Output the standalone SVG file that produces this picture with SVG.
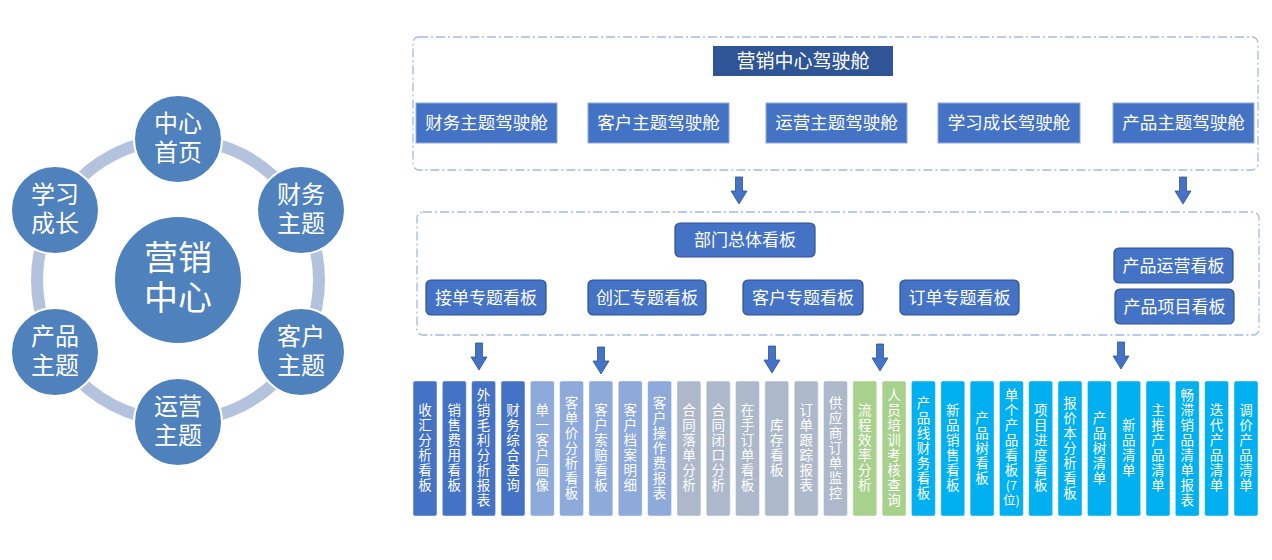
<svg xmlns="http://www.w3.org/2000/svg" width="1272" height="560" viewBox="0 0 1272 560">
<style>
text{font-family:"Noto Sans CJK SC","Noto Sans",sans-serif;fill:#fff;text-anchor:middle}
.ring{fill:none;stroke:#b3c2dd;stroke-width:12}
.circ{fill:#4f81bd;stroke:#fff;stroke-width:2}
.ct{font-size:24px}
.cc{font-size:34px}
.dash{fill:none;stroke:#a4b9e4;stroke-width:1.3;stroke-dasharray:9 3 2 3}
.cab{fill:#4472c4;stroke:#8faadc;stroke-width:1}
.cabt{font-size:17.5px}
.kb{fill:#4472c4;stroke:#2f528f;stroke-width:1.2}
.kbt{font-size:17px}
.arr{fill:#4472c4;stroke:#2f528f;stroke-width:0.8}
.col{stroke:#fff;stroke-opacity:.45;stroke-width:1}
.c1{fill:#4472c4}.c2{fill:#8eaadb}.c3{fill:#adb9ca}.c4{fill:#a9d18e}.c5{fill:#00b0f0}
.vt{font-size:13.5px;writing-mode:vertical-rl;letter-spacing:1.5px}
.ht{font-size:12.5px}
</style>
<defs>
<path id="arrow" d="M-3.5,0 H3.5 V14 H8 L0,27 L-8,14 H-3.5 Z"/>
</defs>

<g id="wheel">
<circle class="ring" cx="178" cy="280" r="141"/>
</g>
<g id="n-center"><circle class="circ" cx="178" cy="280" r="64"/><text class="cc" x="178" y="270">营销</text><text class="cc" x="178" y="310">中心</text></g>
<g id="n-home"><circle class="circ" cx="178" cy="139" r="44"/><text class="ct" x="178" y="132">中心</text><text class="ct" x="178" y="161">首页</text></g>
<g id="n-finance"><circle class="circ" cx="301" cy="210" r="44"/><text class="ct" x="301" y="203">财务</text><text class="ct" x="301" y="232">主题</text></g>
<g id="n-customer"><circle class="circ" cx="301" cy="352" r="44"/><text class="ct" x="301" y="345">客户</text><text class="ct" x="301" y="374">主题</text></g>
<g id="n-ops"><circle class="circ" cx="178" cy="422" r="44"/><text class="ct" x="178" y="415">运营</text><text class="ct" x="178" y="444">主题</text></g>
<g id="n-product"><circle class="circ" cx="55" cy="352" r="44"/><text class="ct" x="55" y="345">产品</text><text class="ct" x="55" y="374">主题</text></g>
<g id="n-learn"><circle class="circ" cx="55" cy="210" r="44"/><text class="ct" x="55" y="203">学习</text><text class="ct" x="55" y="232">成长</text></g>

<g id="cockpit-frame"><rect class="dash" x="413" y="37" width="845" height="133" rx="6"/></g>
<g id="cockpit-main"><rect x="713" y="46" width="180" height="30" fill="#2f5597"/><text x="803" y="68" font-size="19">营销中心驾驶舱</text></g>
<g id="cab-finance"><rect class="cab" x="416" y="103" width="141" height="40"/><text class="cabt" x="486.5" y="129">财务主题驾驶舱</text></g>
<g id="cab-customer"><rect class="cab" x="588" y="103" width="141" height="40"/><text class="cabt" x="658.5" y="129">客户主题驾驶舱</text></g>
<g id="cab-ops"><rect class="cab" x="766" y="103" width="141" height="40"/><text class="cabt" x="836.5" y="129">运营主题驾驶舱</text></g>
<g id="cab-learn"><rect class="cab" x="938" y="103" width="142" height="40"/><text class="cabt" x="1009" y="129">学习成长驾驶舱</text></g>
<g id="cab-product"><rect class="cab" x="1113" y="103" width="141" height="40"/><text class="cabt" x="1183.5" y="129">产品主题驾驶舱</text></g>

<g id="board-frame"><rect class="dash" x="417" y="212" width="842" height="123" rx="6"/></g>
<g id="kb-dept"><rect class="kb" x="675" y="223" width="140" height="34" rx="5"/><text class="kbt" x="745" y="246">部门总体看板</text></g>
<g id="kb-order-take"><rect class="kb" x="426" y="280" width="120" height="35" rx="5"/><text class="kbt" x="486" y="303.5">接单专题看板</text></g>
<g id="kb-fx"><rect class="kb" x="588" y="280" width="118" height="35" rx="5"/><text class="kbt" x="647" y="303.5">创汇专题看板</text></g>
<g id="kb-customer"><rect class="kb" x="743" y="280" width="120" height="35" rx="5"/><text class="kbt" x="803" y="303.5">客户专题看板</text></g>
<g id="kb-order"><rect class="kb" x="900" y="280" width="119" height="35" rx="5"/><text class="kbt" x="959.5" y="303.5">订单专题看板</text></g>
<g id="kb-prod-ops"><rect class="kb" x="1114" y="248" width="119" height="35" rx="5"/><text class="kbt" x="1173.5" y="271.5">产品运营看板</text></g>
<g id="kb-prod-proj"><rect class="kb" x="1115" y="289" width="119" height="35" rx="5"/><text class="kbt" x="1174.5" y="312.5">产品项目看板</text></g>

<g id="connectors">
<use href="#arrow" class="arr" x="739" y="177"/>
<use href="#arrow" class="arr" x="1183" y="177"/>
<use href="#arrow" class="arr" x="479" y="343"/>
<use href="#arrow" class="arr" x="601" y="347"/>
<use href="#arrow" class="arr" x="772" y="346"/>
<use href="#arrow" class="arr" x="880" y="344"/>
<use href="#arrow" class="arr" x="1121" y="342"/>
</g>

<g id="col0"><rect class="col c1" x="413" y="381" width="24" height="135" rx="2"/><text class="vt" x="425" y="448.5">收汇分析看板</text></g>
<g id="col1"><rect class="col c1" x="442.3" y="381" width="24" height="135" rx="2"/><text class="vt" x="454.3" y="448.5">销售费用看板</text></g>
<g id="col2"><rect class="col c1" x="471.6" y="381" width="24" height="135" rx="2"/><text class="vt" x="483.6" y="448.5">外销毛利分析报表</text></g>
<g id="col3"><rect class="col c1" x="501" y="381" width="24" height="135" rx="2"/><text class="vt" x="513" y="448.5">财务综合查询</text></g>
<g id="col4"><rect class="col c2" x="530.3" y="381" width="24" height="135" rx="2"/><text class="vt" x="542.3" y="448.5">单一客户画像</text></g>
<g id="col5"><rect class="col c2" x="559.6" y="381" width="24" height="135" rx="2"/><text class="vt" x="571.6" y="448.5">客单价分析看板</text></g>
<g id="col6"><rect class="col c2" x="588.9" y="381" width="24" height="135" rx="2"/><text class="vt" x="600.9" y="448.5">客户索赔看板</text></g>
<g id="col7"><rect class="col c2" x="618.2" y="381" width="24" height="135" rx="2"/><text class="vt" x="630.2" y="448.5">客户档案明细</text></g>
<g id="col8"><rect class="col c2" x="647.6" y="381" width="24" height="135" rx="2"/><text class="vt" x="659.6" y="448.5">客户操作费报表</text></g>
<g id="col9"><rect class="col c3" x="676.9" y="381" width="24" height="135" rx="2"/><text class="vt" x="688.9" y="448.5">合同落单分析</text></g>
<g id="col10"><rect class="col c3" x="706.2" y="381" width="24" height="135" rx="2"/><text class="vt" x="718.2" y="448.5">合同闭口分析</text></g>
<g id="col11"><rect class="col c3" x="735.5" y="381" width="24" height="135" rx="2"/><text class="vt" x="747.5" y="448.5">在手订单看板</text></g>
<g id="col12"><rect class="col c3" x="764.8" y="381" width="24" height="135" rx="2"/><text class="vt" x="776.8" y="448.5">库存看板</text></g>
<g id="col13"><rect class="col c3" x="794.2" y="381" width="24" height="135" rx="2"/><text class="vt" x="806.2" y="448.5">订单跟踪报表</text></g>
<g id="col14"><rect class="col c3" x="823.5" y="381" width="24" height="135" rx="2"/><text class="vt" x="835.5" y="448.5">供应商订单监控</text></g>
<g id="col15"><rect class="col c4" x="852.8" y="381" width="24" height="135" rx="2"/><text class="vt" x="864.8" y="448.5">流程效率分析</text></g>
<g id="col16"><rect class="col c4" x="882.1" y="381" width="24" height="135" rx="2"/><text class="vt" x="894.1" y="448.5">人员培训考核查询</text></g>
<g id="col17"><rect class="col c5" x="911.4" y="381" width="24" height="135" rx="2"/><text class="vt" x="923.4" y="448.5">产品线财务看板</text></g>
<g id="col18"><rect class="col c5" x="940.8" y="381" width="24" height="135" rx="2"/><text class="vt" x="952.8" y="448.5">新品销售看板</text></g>
<g id="col19"><rect class="col c5" x="970.1" y="381" width="24" height="135" rx="2"/><text class="vt" x="982.1" y="448.5">产品树看板</text></g>
<g id="col20"><rect class="col c5" x="999.4" y="381" width="24" height="135" rx="2"/><text class="vt" x="1011.4" y="433">单个产品看板</text><text class="ht" x="1011.4" y="490">(7</text><text class="ht" x="1011.4" y="505">位)</text></g>
<g id="col21"><rect class="col c5" x="1028.7" y="381" width="24" height="135" rx="2"/><text class="vt" x="1040.7" y="448.5">项目进度看板</text></g>
<g id="col22"><rect class="col c5" x="1058" y="381" width="24" height="135" rx="2"/><text class="vt" x="1070" y="448.5">报价本分析看板</text></g>
<g id="col23"><rect class="col c5" x="1087.4" y="381" width="24" height="135" rx="2"/><text class="vt" x="1099.4" y="448.5">产品树清单</text></g>
<g id="col24"><rect class="col c5" x="1116.7" y="381" width="24" height="135" rx="2"/><text class="vt" x="1128.7" y="448.5">新品清单</text></g>
<g id="col25"><rect class="col c5" x="1146" y="381" width="24" height="135" rx="2"/><text class="vt" x="1158" y="448.5">主推产品清单</text></g>
<g id="col26"><rect class="col c5" x="1175.3" y="381" width="24" height="135" rx="2"/><text class="vt" x="1187.3" y="448.5">畅滞销品清单报表</text></g>
<g id="col27"><rect class="col c5" x="1204.6" y="381" width="24" height="135" rx="2"/><text class="vt" x="1216.6" y="448.5">迭代产品清单</text></g>
<g id="col28"><rect class="col c5" x="1234" y="381" width="24" height="135" rx="2"/><text class="vt" x="1246" y="448.5">调价产品清单</text></g>
</svg>
